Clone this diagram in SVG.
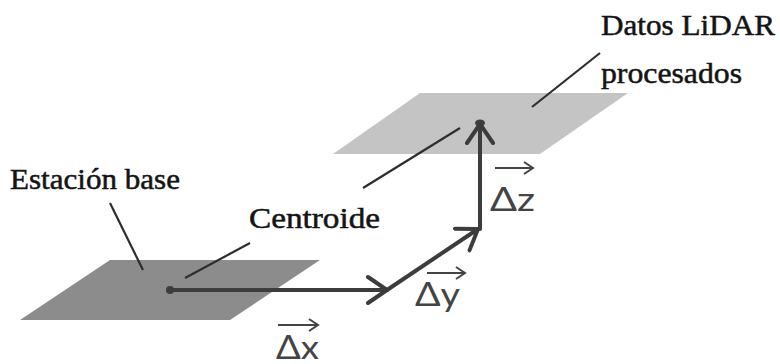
<svg xmlns="http://www.w3.org/2000/svg" width="780" height="364" viewBox="0 0 780 364">
<style>
.lbl{font-family:"Liberation Serif","DejaVu Serif",serif;font-size:29px;fill:#141414;stroke:#141414;stroke-width:0.5}
.vl{font-family:Lato,"Open Sans","DejaVu Sans",sans-serif;font-size:32px;fill:#444}
.vec{stroke:#3c3c3c;stroke-width:4;fill:none;stroke-linecap:round}
.lead{stroke:#2e2e2e;stroke-width:2.2;fill:none}
.ov{stroke:#444;stroke-width:2;fill:none}
</style>
<defs>
<marker id="head" markerUnits="userSpaceOnUse" viewBox="0 0 24 32" refX="21" refY="16" markerWidth="24" markerHeight="32" orient="auto">
<path d="M2,3 L21,16 L2,29" fill="none" stroke="#3c3c3c" stroke-width="4" stroke-linecap="round" stroke-linejoin="round"/>
</marker>
<marker id="sm" markerUnits="userSpaceOnUse" viewBox="0 0 12 14" refX="10" refY="7" markerWidth="12" markerHeight="14" orient="auto">
<path d="M1,1 L10,7 L1,13" fill="none" stroke="#444" stroke-width="2"/>
</marker>
</defs>
<rect width="780" height="364" fill="#fff"/>
<g id="lower-plane"><polygon points="110,260 320,260 230,320 20,320" fill="#8c8c8c"/></g>
<g id="upper-plane"><polygon points="420,93 628,93 540,154 333,154" fill="#c4c4c4"/></g>
<g id="connectors">
<line class="lead" x1="110" y1="203" x2="143" y2="270"/>
<line class="lead" x1="250" y1="243" x2="185" y2="278"/>
<line class="lead" x1="363" y1="188" x2="460" y2="128"/>
<line class="lead" x1="600" y1="53" x2="532" y2="107"/>
<line class="vec" x1="170" y1="290" x2="387" y2="290" marker-end="url(#head)"/>
<line class="vec" x1="387" y1="290" x2="478" y2="229" marker-end="url(#head)"/>
<line class="vec" x1="480" y1="229" x2="480" y2="124" marker-end="url(#head)"/>
<circle cx="170" cy="290" r="4" fill="#3c3c3c"/>
<ellipse cx="480" cy="123" rx="5" ry="3.5" fill="#3c3c3c"/>
</g>
<g id="label-estacion"><text class="lbl" x="10" y="189" textLength="170" lengthAdjust="spacingAndGlyphs">Estación base</text></g>
<g id="label-centroide"><text class="lbl" x="249" y="228" textLength="131" lengthAdjust="spacingAndGlyphs">Centroide</text></g>
<g id="label-lidar"><text class="lbl" x="601" y="35" textLength="174" lengthAdjust="spacingAndGlyphs">Datos LiDAR</text><text class="lbl" x="601" y="83" textLength="141" lengthAdjust="spacingAndGlyphs">procesados</text></g>
<g id="label-dx"><line class="ov" x1="278" y1="325" x2="318" y2="325" marker-end="url(#sm)"/><text class="vl" x="276" y="359" textLength="43" lengthAdjust="spacingAndGlyphs">Δx</text></g>
<g id="label-dy"><line class="ov" x1="427" y1="273" x2="465" y2="273" marker-end="url(#sm)"/><text class="vl" x="415" y="306" textLength="45" lengthAdjust="spacingAndGlyphs">Δy</text></g>
<g id="label-dz"><line class="ov" x1="495" y1="168" x2="533" y2="168" marker-end="url(#sm)"/><text class="vl" x="490" y="211" textLength="45" lengthAdjust="spacingAndGlyphs">Δz</text></g>
</svg>
